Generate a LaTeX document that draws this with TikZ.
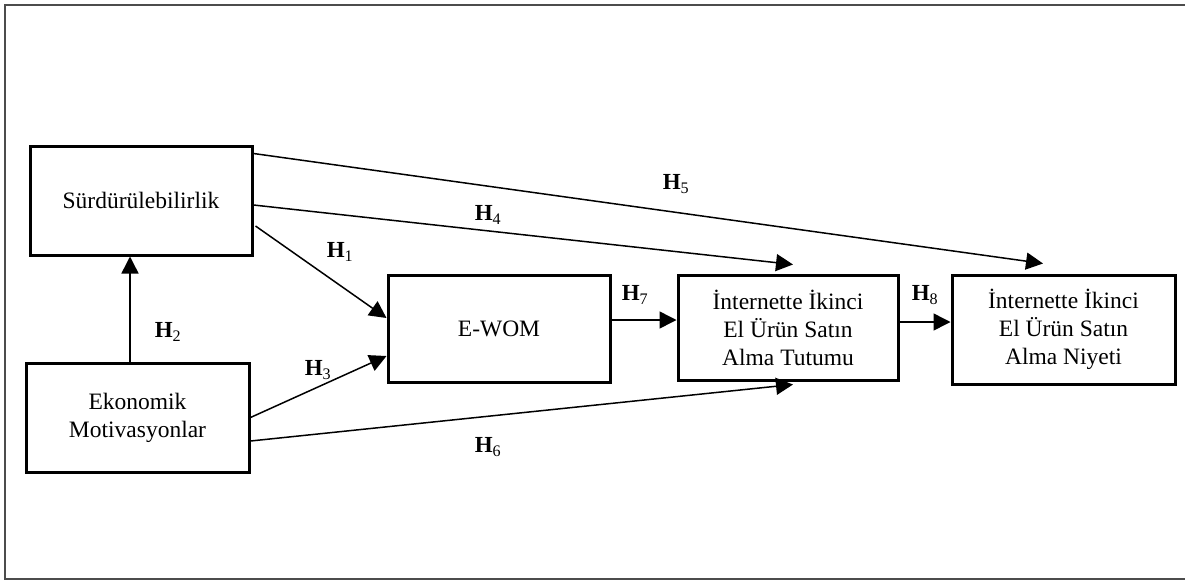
\documentclass[tikz,border=0pt]{standalone}
\usepackage{fontspec}
\setmainfont{Liberation Serif}
\usetikzlibrary{arrows.meta}
\begin{document}
\begin{tikzpicture}[x=1pt,y=-1pt,
  box/.style={draw, line width=3pt, rectangle, align=center, inner sep=0pt,
    font=\fontsize{23.5}{28}\selectfont},
  conn/.style={line width=1.5pt, -{Triangle[length=17pt,width=17pt]}},
  hlab/.style={font=\fontsize{23}{27}\selectfont, inner sep=0pt},
  frame/.style={line width=2.2pt, draw=black!70}]
\useasboundingbox (0,0) rectangle (1185,581);
\draw[frame] (1185,5) -- (5,5) -- (5,579) -- (1185,579);
\node[box, minimum width=222pt, minimum height=109pt] (S) at (141,200.5) {Sürdürülebilirlik};
\node[box, minimum width=223pt, minimum height=109pt] (EK) at (137.5,417.5) {Ekonomik\\Motivasyonlar};
\node[box, minimum width=222pt, minimum height=107pt] (EW) at (499,328.5) {E-WOM};
\node[box, minimum width=220pt, minimum height=105pt] (T) at (788,327.5) {İnternette İkinci\\El Ürün Satın\\Alma Tutumu};
\node[box, minimum width=223pt, minimum height=109pt] (N) at (1063.5,329.5) {İnternette İkinci\\El Ürün Satın\\Alma Niyeti};
% connectors
\draw[conn] ([xshift=-7.5pt]EK.north) -- ([xshift=-11pt]S.south);
\draw[conn] ([xshift=2pt,yshift=-25.5pt]S.east) -- ([yshift=10.5pt]EW.west);
\draw[conn] (EK.east) -- ([yshift=-27.5pt]EW.west);
\draw[conn] ([yshift=-4.5pt]S.east) -- ([xshift=5pt,yshift=9pt]T.north);
\draw[conn] ([yshift=-9pt]S.north east) -- ([xshift=-20.5pt,yshift=10pt]N.north);
\draw[conn] ([yshift=-23.5pt]EK.east) -- ([xshift=5pt,yshift=-3pt]T.south);
\draw[conn] ([yshift=8.5pt]EW.east) -- ([yshift=7.5pt]T.west);
\draw[conn] ([yshift=5.5pt]T.east) -- ([yshift=7.5pt]N.west);
% labels
\node[hlab] (h1) at (340,252) {\textbf{H}\textsubscript{1}};
\node[hlab] (h2) at (168,332) {\textbf{H}\textsubscript{2}};
\node[hlab] (h3) at (318,370) {\textbf{H}\textsubscript{3}};
\node[hlab] (h4) at (488,215) {\textbf{H}\textsubscript{4}};
\node[hlab] (h5) at (676,184) {\textbf{H}\textsubscript{5}};
\node[hlab] (h6) at (488,447) {\textbf{H}\textsubscript{6}};
\node[hlab] (h7) at (635,295) {\textbf{H}\textsubscript{7}};
\node[hlab] (h8) at (925,295) {\textbf{H}\textsubscript{8}};
\end{tikzpicture}
\end{document}
